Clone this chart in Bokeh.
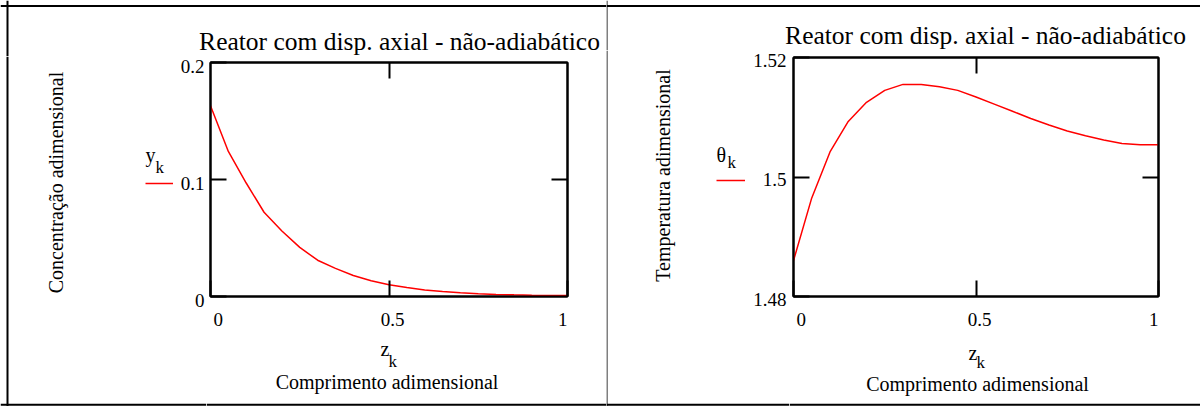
import math
from bokeh.plotting import figure
from bokeh.models import (Range1d, LinearAxis, FixedTicker, Label, Legend,
                          LegendItem, Span)
from bokeh.layouts import row, column
from bokeh.embed import file_html
from bokeh.resources import INLINE

# ---------------- data ----------------
z_k = [0.00, 0.05, 0.10, 0.15, 0.20, 0.25, 0.30, 0.35, 0.40, 0.45, 0.50,
       0.55, 0.60, 0.65, 0.70, 0.75, 0.80, 0.85, 0.90, 0.95, 1.00]
y_k = [0.163, 0.124, 0.097, 0.072, 0.056, 0.042, 0.031, 0.024, 0.018, 0.0135,
       0.0100, 0.0076, 0.0056, 0.0042, 0.0032, 0.0024, 0.0018, 0.0014, 0.0011,
       0.0009, 0.0008]
theta_k = [1.4860, 1.4965, 1.5042, 1.5093, 1.5125, 1.5145, 1.5155, 1.5155,
           1.5151, 1.5145, 1.5134, 1.5122, 1.5110, 1.5098, 1.5087, 1.5077,
           1.5069, 1.5062, 1.5056, 1.5054, 1.5054]

TITLE = "Reator com disp. axial - não-adiabático"
x_ticks = [0, 0.5, 1]
x_tick_labels = ["0", "0.5", "1"]
y_ticks_left = [0, 0.1, 0.2]
y_tick_labels_left = ["0", "0.1", "0.2"]
y_ticks_right = [1.48, 1.5, 1.52]
y_tick_labels_right = ["1.48", "1.5", "1.52"]
ylabel_left = "Concentração adimensional"
ylabel_right = "Temperatura adimensional"
xlabel_left = "Comprimento  adimensional"
xlabel_right = "Comprimento adimensional"

SERIF = "Liberation Serif"
MID = 0.3375   # em-box middle above the baseline for Liberation Serif


def strip(x0, y0, w, h):
    """A plain text area whose frame covers the whole canvas (1 unit = 1 px)."""
    s = figure(width=w, height=h, x_range=Range1d(0, w), y_range=Range1d(0, h),
               x_axis_location=None, y_axis_location=None,
               min_border=0, min_border_left=0, min_border_right=0,
               min_border_top=0, min_border_bottom=0,
               output_backend="svg", toolbar_location=None)
    s.grid.visible = False
    s.outline_line_color = None
    s.background_fill_color = "white"
    s.border_fill_color = "white"
    s._geom = (x0, y0, w, h)
    return s


def lab(s, px, pb, text, size, align="left", angle=0.0, center=False):
    """Text at page x px; pb = baseline (or centre if center=True) page y."""
    x0, y0, w, h = s._geom
    py = pb if center else pb - MID * size
    s.add_layout(Label(x=px - x0, y=h - (py - y0), text=text, text_font=SERIF,
                       text_font_size=f"{size}px", text_color="black",
                       text_align=align, text_baseline="middle", angle=angle))


def hline(s, py, width=2):
    x0, y0, w, h = s._geom
    s.add_layout(Span(location=h - (py - y0), dimension="width",
                      line_color="black", line_width=width))


def vline(s, px, width=2):
    x0, y0, w, h = s._geom
    s.add_layout(Span(location=px - x0, dimension="height",
                      line_color="black", line_width=width))


def axis(ticks):
    a = LinearAxis(ticker=FixedTicker(ticks=ticks, minor_ticks=[]))
    a.axis_line_color = "black"
    a.axis_line_width = 2
    a.major_tick_line_color = "black"
    a.major_tick_line_width = 2
    a.major_tick_in = 16
    a.major_tick_out = 0
    a.minor_tick_line_color = None
    a.major_label_standoff = 0
    a.major_label_text_font_size = "1px"
    a.major_label_text_color = None
    return a


def main_plot(x0, y0, w, h, L, R, T, B, yr, yticks, ydata):
    p = figure(width=w, height=h, x_range=Range1d(0, 1), y_range=Range1d(*yr),
               x_axis_location=None, y_axis_location=None,
               min_border_left=L - x0, min_border_right=x0 + w - R,
               min_border_top=T - y0, min_border_bottom=y0 + h - B,
               output_backend="svg", toolbar_location=None)
    p.grid.visible = False
    p.outline_line_color = "black"
    p.outline_line_width = 2
    p.background_fill_color = "white"
    p.border_fill_color = "white"
    p.add_layout(axis(yticks), "left")
    p.add_layout(axis([yticks[1]]), "right")
    p.add_layout(axis([x_ticks[1]]), "above")
    p.add_layout(axis(x_ticks), "below")
    p.line(z_k, ydata, line_color="red", line_width=1.5)
    return p


def y_tick_texts(s, L, T, B, yr, yticks, ylabels, gap, drop):
    """Value labels of the y axis, placed at the ticks of the main plot's scale."""
    y0, y1 = yr
    for v, t in zip(yticks, ylabels):
        py = B - (v - y0) / (y1 - y0) * (B - T)
        lab(s, L - gap, py + drop, t, 19, align="right", center=True)


def x_tick_texts(s, L, R, baseline):
    """Value labels of the x axis (Mathcad style: first/last kept inside)."""
    aligns = ["left", "center", "right"]
    shifts = [3, 3.5, 0]
    for v, t, a, d in zip(x_ticks, x_tick_labels, aligns, shifts):
        px = L + (v - 0) / (1 - 0) * (R - L)
        lab(s, px + d, baseline, t, 19, align=a)


def legend_swatch(s, ydata, px, py, gw):
    x0, y0, w, h = s._geom
    r = s.line(z_k, ydata, line_color="red", line_width=1.5, visible=False)
    leg = Legend(items=[LegendItem(label=" ", renderers=[r])],
                 location=(px - x0, h - (py - y0) - 5),
                 glyph_width=gw, glyph_height=10, label_text_font_size="1px",
                 label_text_color=None,
                 label_height=10, label_width=0, label_standoff=0, padding=0,
                 margin=0, spacing=0, border_line_color=None,
                 background_fill_alpha=0, click_policy="none")
    s.add_layout(leg, "center")


def solo_row(*items):
    # each item gets its own box, so that Bokeh does not align plot frames
    return row(*[column(i) for i in items])


def solo_col(*items):
    return column(*[row(i) for i in items])


# ---------------- panel 1 : concentration ----------------
L1, R1, T1, B1 = 210, 567, 62, 296
top1 = strip(0, 0, 606, 56)
left1 = strip(0, 56, 206, 350)
main1 = main_plot(206, 56, 394, 250, L1, R1, T1, B1, (0, 0.2), y_ticks_left, y_k)
right1 = strip(600, 56, 6, 250)
bot1 = strip(206, 306, 400, 100)

lab(top1, 399, 50, TITLE, 25.5, align="center")
y_tick_texts(left1, L1, T1, B1, (0, 0.2), y_ticks_left, y_tick_labels_left, 6, 3.5)
x_tick_texts(bot1, L1, R1, 325)
lab(left1, 55, 182, ylabel_left, 20, align="center", angle=math.pi / 2,
    center=True)
lab(left1, 145, 161, "y", 20)
lab(left1, 155, 173, "k", 17)
legend_swatch(left1, y_k, 145, 183, 28)
lab(bot1, 380, 355, "z", 20)
lab(bot1, 388, 367, "k", 17)
lab(bot1, 389, 388, xlabel_left, 20, align="center")

hline(top1, 5.5)
for s in (left1, bot1):
    hline(s, 404.3)
for s in (top1, left1):
    vline(s, 7)

# ---------------- panel 2 : temperature ----------------
L2, R2, T2, B2 = 793, 1158, 57, 296
top2 = strip(606, 0, 594, 50)
left2 = strip(606, 50, 183, 356)
main2 = main_plot(789, 50, 401, 256, L2, R2, T2, B2, (1.48, 1.52),
                  y_ticks_right, theta_k)
right2 = strip(1190, 50, 10, 256)
bot2 = strip(789, 306, 411, 100)

lab(top2, 985, 44, TITLE, 25.5, align="center")
y_tick_texts(left2, L2, T2, B2, (1.48, 1.52), y_ticks_right, y_tick_labels_right,
             7, 2.5)
x_tick_texts(bot2, L2, R2, 325)
lab(left2, 662.5, 175, ylabel_right, 20, align="center", angle=math.pi / 2,
    center=True)
lab(left2, 716, 161, "θ", 20)
lab(left2, 727, 168, "k", 17)
legend_swatch(left2, theta_k, 716, 180, 29)
lab(bot2, 968, 359, "z", 20)
lab(bot2, 976, 368, "k", 17)
lab(bot2, 977, 390, xlabel_right, 20, align="center")

hline(top2, 5.5)
for s in (left2, bot2):
    hline(s, 404.3)
for s in (top2, left2):
    vline(s, 606.5, width=1)

panel1 = solo_col(top1, solo_row(left1, solo_col(solo_row(main1, right1), bot1)))
panel2 = solo_col(top2, solo_row(left2, solo_col(solo_row(main2, right2), bot2)))
layout = row(panel1, panel2)
open("out.html", "w").write(file_html(layout, INLINE))
